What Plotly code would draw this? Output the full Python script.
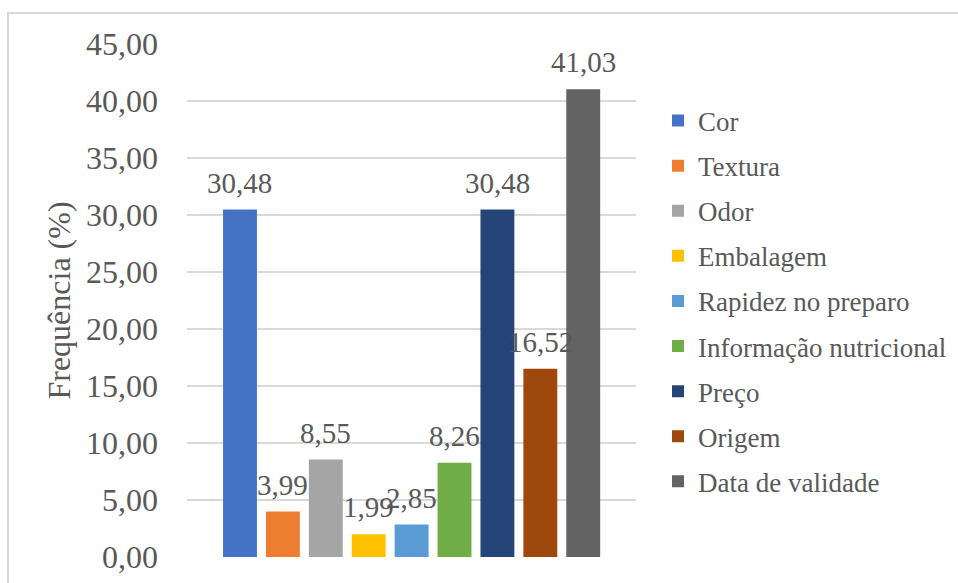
import plotly.graph_objects as go

categories = ["Cor", "Textura", "Odor", "Embalagem", "Rapidez no preparo",
              "Informação nutricional", "Preço", "Origem", "Data de validade"]
values = [30.48, 3.99, 8.55, 1.99, 2.85, 8.26, 30.48, 16.52, 41.03]
colors = ["#4472C4", "#ED7D31", "#A5A5A5", "#FFC000", "#5B9BD5",
          "#70AD47", "#264478", "#9E480E", "#636363"]
y_ticks = [0, 5, 10, 15, 20, 25, 30, 35, 40, 45]
y_tick_labels = [f"{v:.2f}".replace(".", ",") for v in y_ticks]

FONT = "Liberation Serif"
TXT = "#595959"

fig = go.Figure()
for i, (name, val, col) in enumerate(zip(categories, values, colors)):
    fig.add_trace(go.Bar(
        x=[name], y=[val], name=name, marker_color=col,
        marker_line_width=0, width=0.79, legendgroup=name,
    ))
    fig.add_annotation(
        x=name, y=val, text=f"{val:.2f}".replace(".", ","),
        showarrow=False, yanchor="bottom", yshift=9,
        font=dict(family=FONT, size=29, color=TXT),
    )

W, H = 958, 583
L, R, T, B = 187, 958 - 636, 44, 583 - 557
pw, ph = W - L - R, H - T - B

def px2x(p):
    return (p - L) / pw

def px2y(p):
    return (H - B - p) / ph

fig.add_shape(type="rect", xref="paper", yref="paper",
              x0=px2x(8), x1=px2x(970), y0=px2y(600), y1=px2y(13),
              line=dict(color="#D9D9D9", width=2), layer="below")

fig.update_layout(
    width=W, height=H,
    margin=dict(l=L, r=R, t=T, b=B, autoexpand=False),
    paper_bgcolor="white", plot_bgcolor="white",
    barmode="overlay",
    font=dict(family=FONT, color=TXT),
    xaxis=dict(type="category", categoryorder="array", categoryarray=categories,
               range=[-1.235, 9.23], showticklabels=False, showgrid=False,
               zeroline=False, showline=False, ticks=""),
    yaxis=dict(range=[0, 45], tickvals=y_ticks, ticktext=y_tick_labels,
               tickfont=dict(family=FONT, size=32, color=TXT),
               showgrid=True, gridcolor="#D9D9D9", gridwidth=2,
               zeroline=False, showline=False, ticks="",
               ticklabelstandoff=28,
               title=dict(text="Frequência (%)", standoff=5,
                          font=dict(family=FONT, size=32, color=TXT))),
    legend=dict(x=1.049, y=0.499, xanchor="left", yanchor="middle",
                font=dict(family=FONT, size=27, color=TXT),
                tracegroupgap=7, itemwidth=30, bgcolor="rgba(0,0,0,0)"),
    showlegend=True,
)

fig.write_html("out.html")
